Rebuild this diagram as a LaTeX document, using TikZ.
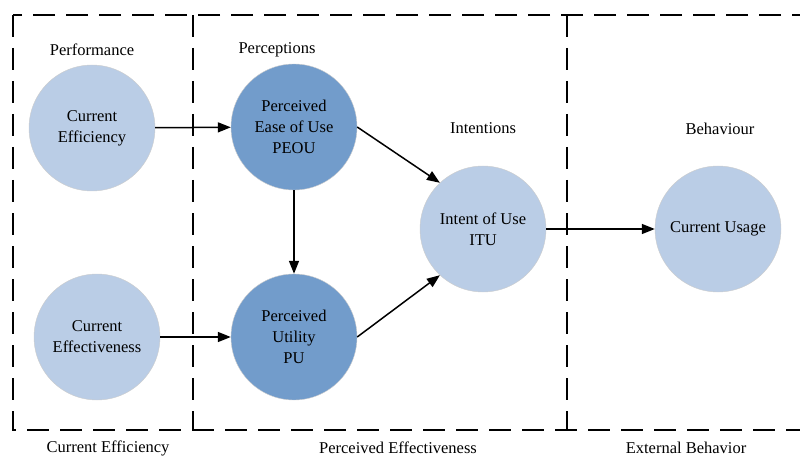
\documentclass[tikz,border=0pt]{standalone}
\usepackage{fontspec}
\setmainfont{Liberation Serif}
\usetikzlibrary{positioning,arrows.meta}
\definecolor{lightblue}{HTML}{BACDE6}
\definecolor{darkblue}{HTML}{729CCB}

\begin{document}
\begin{tikzpicture}[
    x=1pt, y=-1pt,
    font=\fontsize{16.5}{21}\selectfont,
    measure/.style={circle, draw=gray!40, fill=lightblue, minimum size=126pt, inner sep=0pt, align=center},
    perceived/.style={measure, fill=darkblue},
    region/.style={draw, line width=1.2pt, dash pattern=on 22pt off 11pt},
    arrow/.style={-{Triangle[length=13pt,width=10pt]}, line width=1.5pt}
]
    \useasboundingbox (0,0) rectangle (800,457);
    \clip (0,0) rectangle (800,457);

    % Regions
    \draw[region] (13,15) rectangle (840,430);
    \draw[region] (193,15) -- (193,430);
    \draw[region] (567,15) -- (567,430);

    % Performance
    \node (performance) at (92,50) {Performance};
    \node[measure] (curreff) at (92,128) {Current\\Efficiency};
    \node[measure] (curreffect) at (97,337) {Current\\Effectiveness};

    % Perceptions
    \node (perceptions) at (277,50) {Perceptions};
    \node[perceived] (peou) at (294,127) {Perceived\\Ease of Use\\PEOU};
    \node[perceived] (pu) at (294,337) {Perceived\\Utility\\PU};

    % Intentions
    \node (intentions) at (483,128) {Intentions};
    \node[measure] (itu) at (483,229) {Intent of Use\\ITU};

    % Behaviour
    \node (behaviour) at (720,129) {Behaviour};
    \node[measure] (usage) at (718,229) {Current Usage\vphantom{g}};

    % Region captions
    \node (capeff) at (108,448) {Current Efficiency};
    \node (capperc) at (398,448) {Perceived Effectiveness};
    \node (capext) at (686,448) {External Behavior};

    % Arrows
    \draw[arrow] (curreff) -- (peou);
    \draw[arrow] (curreffect) -- (pu);
    \draw[arrow] (peou) -- (pu);
    \draw[arrow] (peou.east) -- (itu.133);
    \draw[arrow] (pu.east) -- (itu.227);
    \draw[arrow] (itu) -- (usage);
\end{tikzpicture}
\end{document}
